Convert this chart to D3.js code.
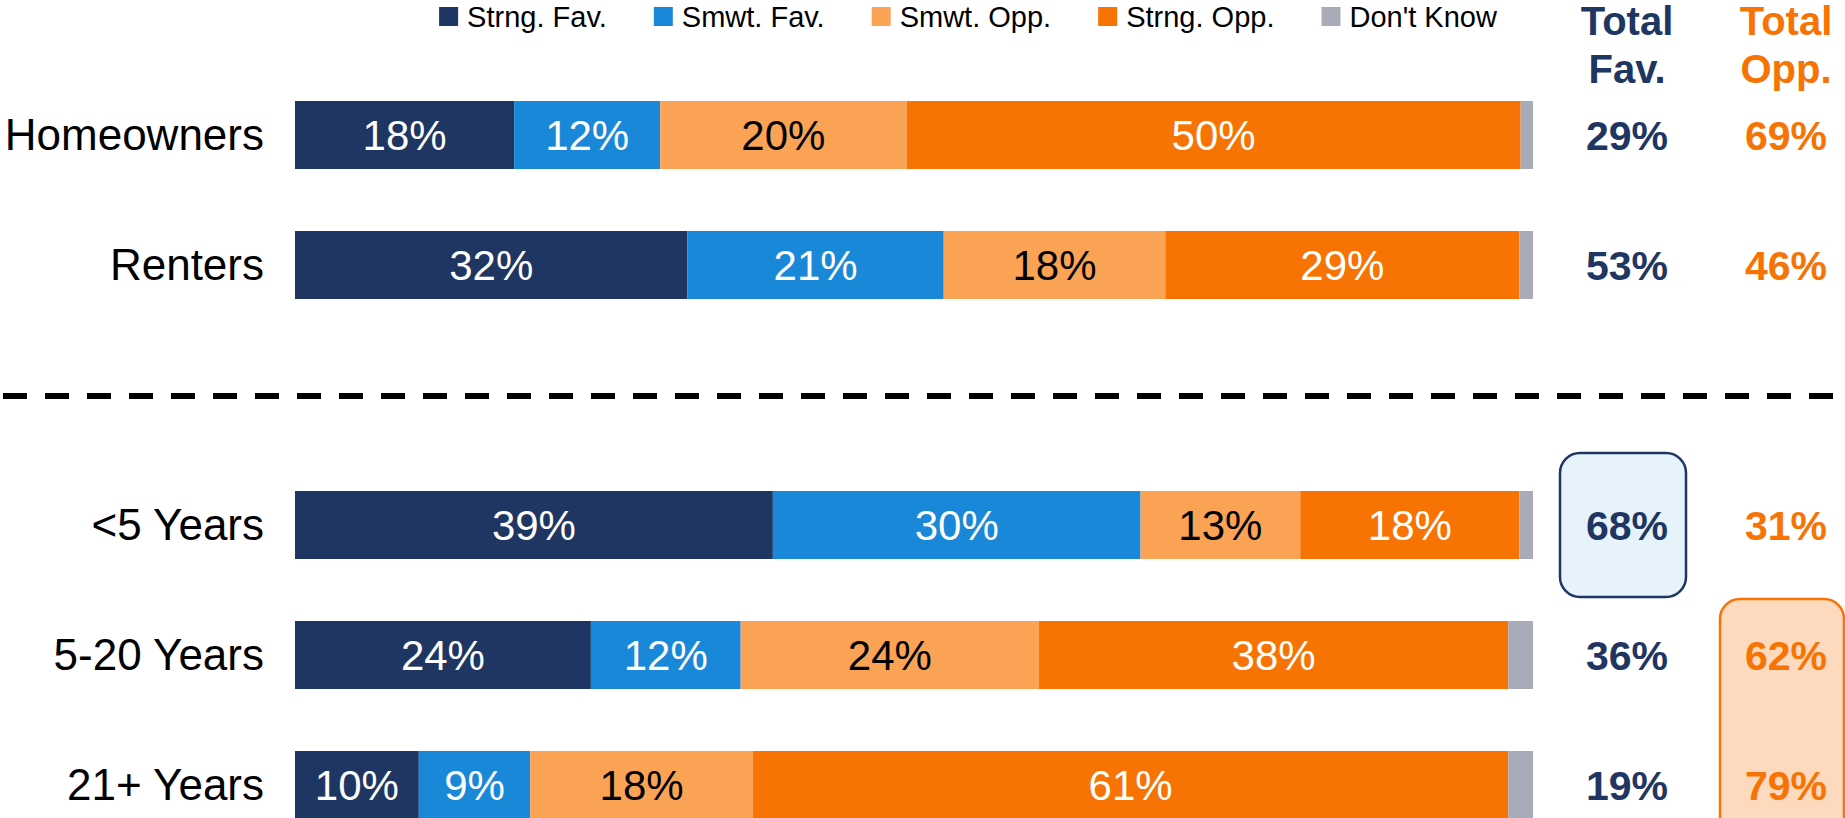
<html>
<meta name="viewport" content="width=device-width, initial-scale=1">
    <head>
        <script src="https://d3js.org/d3.v7.js"></script>
        <style>
            body { margin: 0; background: white; overflow: hidden; }
            text { font-family: "Liberation Sans", Arial, sans-serif; }
        </style>
    </head>

    <body>

        <svg width="1845" height="818"></svg>

        <script>
            // rows (blank "gap" row holds the dashed divider)
            var rows = ["Homeowners", "Renters", "gap", "<5 Years", "5-20 Years", "21+ Years"];
            var groups = ["Homeowners", "Renters", "<5 Years", "5-20 Years", "21+ Years"];

            var seriesNames = ["Strng. Fav.", "Smwt. Fav.", "Smwt. Opp.", "Strng. Opp.", "Don't Know"];
            var seriesColors = ["#1e3661", "#1a88d8", "#fba355", "#f77303", "#aaabb8"];
            var labelColors = ["white", "white", "black", "white", null];

            var strongFav = [17.7, 31.7, 38.6, 23.9, 10.0];
            var smwtFav   = [11.8, 20.7, 29.7, 12.1, 9.0];
            var smwtOpp   = [19.9, 17.9, 12.9, 24.1, 18.0];
            var strongOpp = [49.6, 28.6, 17.7, 37.9, 61.0];
            var dontKnow  = [1.0, 1.1, 1.1, 2.0, 2.0];

            var totalFav = [29, 53, 68, 36, 19];
            var totalOpp = [69, 46, 31, 62, 79];

            var navy = "#1e3661", orange = "#f77303";

            var mySvg = d3.select("svg");

            var x = d3.scaleLinear().domain([0, 100]).range([295, 1533]);
            var y = d3.scaleBand().domain(rows).range([70, 850])
                .paddingInner(62 / 130).paddingOuter(31 / 130);

            var table = groups.map(function(g, i) {
                return { group: g, s0: strongFav[i], s1: smwtFav[i], s2: smwtOpp[i], s3: strongOpp[i], s4: dontKnow[i] };
            });
            var keys = ["s0", "s1", "s2", "s3", "s4"];
            var stacked = d3.stack().keys(keys)(table);

            // dashed divider
            mySvg.append("line")
                .attr("x1", 3).attr("x2", 1845)
                .attr("y1", y("gap") + y.bandwidth() / 2 + 1)
                .attr("y2", y("gap") + y.bandwidth() / 2 + 1)
                .style("stroke", "black")
                .style("stroke-width", 6)
                .style("stroke-dasharray", "24,18");

            // highlight boxes
            var tx = { fav: 1623, opp: 1782 };
            mySvg.append("rect")
                .attr("x", tx.fav - 63).attr("y", y("<5 Years") - 38)
                .attr("width", 126).attr("height", 144)
                .attr("rx", 20)
                .style("fill", "#e7f3fb").style("stroke", navy).style("stroke-width", 2.5);
            mySvg.append("rect")
                .attr("x", tx.opp - 62).attr("y", y("5-20 Years") - 22)
                .attr("width", 124).attr("height", 240)
                .attr("rx", 20)
                .style("fill", "#fdd9bd").style("stroke", orange).style("stroke-width", 2.5);

            // bars
            var layers = mySvg.append("g").selectAll("g")
                .data(stacked).enter().append("g")
                .style("fill", function(d, i) { return seriesColors[i]; });

            layers.selectAll("rect")
                .data(function(d) { return d; })
                .enter().append("rect")
                .attr("x", function(d) { return x(d[0]); })
                .attr("y", function(d) { return y(d.data.group); })
                .attr("width", function(d) { return x(d[1]) - x(d[0]); })
                .attr("height", y.bandwidth());

            // segment labels
            stacked.forEach(function(layer, i) {
                if (!labelColors[i]) return;
                mySvg.append("g").selectAll("text")
                    .data(layer).enter().append("text")
                    .attr("x", function(d) { return (x(d[0]) + x(d[1])) / 2; })
                    .attr("y", function(d) { return y(d.data.group) + y.bandwidth() / 2 + 15; })
                    .attr("text-anchor", "middle")
                    .style("font-size", "42px")
                    .style("fill", labelColors[i])
                    .text(function(d) { return Math.round(d[1] - d[0]) + "%"; });
            });

            // row labels
            mySvg.append("g").selectAll("text")
                .data(groups).enter().append("text")
                .attr("x", 264)
                .attr("y", function(d) { return y(d) + y.bandwidth() / 2 + 15; })
                .attr("text-anchor", "end")
                .style("font-size", "44px")
                .style("fill", "black")
                .text(function(d) { return d; });

            // totals
            mySvg.append("g").selectAll("text")
                .data(totalFav).enter().append("text")
                .attr("x", tx.fav + 4)
                .attr("y", function(d, i) { return y(groups[i]) + y.bandwidth() / 2 + 15; })
                .attr("text-anchor", "middle")
                .style("font-size", "41px").style("font-weight", "bold")
                .style("fill", navy)
                .text(function(d) { return d + "%"; });
            mySvg.append("g").selectAll("text")
                .data(totalOpp).enter().append("text")
                .attr("x", tx.opp + 4)
                .attr("y", function(d, i) { return y(groups[i]) + y.bandwidth() / 2 + 15; })
                .attr("text-anchor", "middle")
                .style("font-size", "41px").style("font-weight", "bold")
                .style("fill", orange)
                .text(function(d) { return d + "%"; });

            // column headers
            [["Total", "Fav.", tx.fav + 4, navy], ["Total", "Opp.", tx.opp + 4, orange]].forEach(function(h) {
                var t = mySvg.append("text")
                    .attr("text-anchor", "middle")
                    .style("font-size", "40px").style("font-weight", "bold")
                    .style("fill", h[3]);
                t.append("tspan").attr("x", h[2]).attr("y", 35).text(h[0]);
                t.append("tspan").attr("x", h[2]).attr("y", 83).text(h[1]);
            });

            // legend
            var legend = mySvg.append("g");
            var items = legend.selectAll("g").data(seriesNames).enter().append("g");
            items.append("rect")
                .attr("y", 7).attr("width", 19).attr("height", 19)
                .style("fill", function(d, i) { return seriesColors[i]; });
            items.append("text")
                .attr("x", 28).attr("y", 27)
                .style("font-size", "29px")
                .style("fill", "black")
                .text(function(d) { return d; });
            var pos = 0, widths = [];
            items.each(function() {
                widths.push(28 + d3.select(this).select("text").node().getComputedTextLength());
            });
            var total = d3.sum(widths) + 47 * (widths.length - 1);
            var start = 968 - total / 2;
            items.attr("transform", function(d, i) {
                var tr = "translate(" + (start + pos) + ",0)";
                pos += widths[i] + 47;
                return tr;
            });
        </script>

    </body>
</html>
